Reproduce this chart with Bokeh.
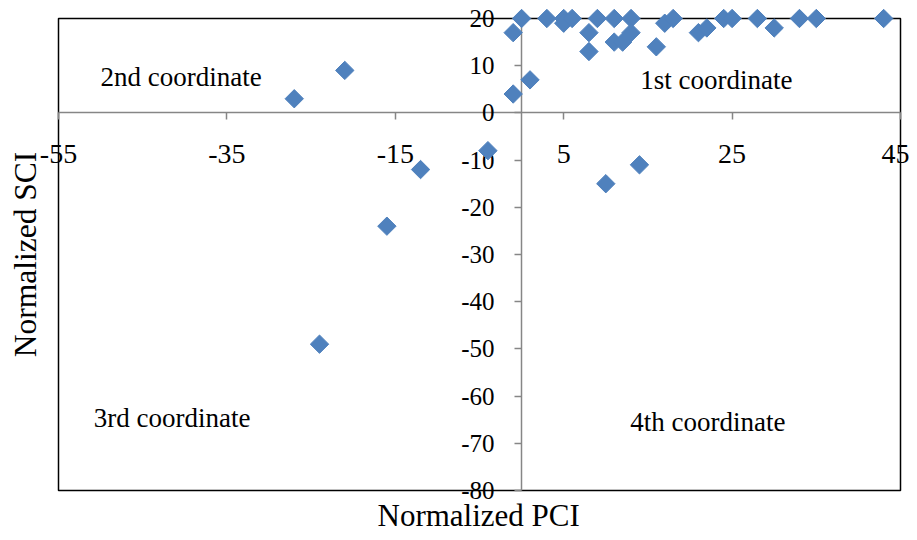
import numpy as np
from bokeh.plotting import figure
from bokeh.models import LinearAxis, FixedTicker, Range1d, Label, ColumnDataSource
from bokeh.embed import file_html
from bokeh.resources import INLINE

# ---- data ----
pci = [-27, -21, -12, -16, -24, -4, -1, 0, -1, 1, 3, 5, 5, 6, 8, 8, 9, 11, 11,
       12, 13, 13, 10, 14, 16, 17, 18, 21, 22, 24, 25, 28, 30, 33, 35, 43]
sci = [3, 9, -12, -24, -49, -8, 17, 20, 4, 7, 20, 20, 19, 20, 17, 13, 20, 20, 15,
       15, 20, 17, -15, -11, 14, 19, 20, 17, 18, 20, 20, 20, 18, 20, 20, 20]
x_ticks = [-55, -35, -15, 5, 25, 45]
y_ticks = [-80, -70, -60, -50, -40, -30, -20, -10, 0, 10, 20]
quadrant_labels = ["1st coordinate", "2nd coordinate", "3rd coordinate", "4th coordinate"]
x_title = "Normalized PCI"
y_title = "Normalized SCI"

FONT = "Liberation Serif"
AXIS_GRAY = "#868686"
BLUE = "#4F81BD"

# ---- layout (pixels) ----
W, H = 909, 532
BOX_L, BOX_R, BOX_T, BOX_B = 58, 900, 18, 490
xmin, xmax = x_ticks[0], x_ticks[-1]
ymin, ymax = y_ticks[0], y_ticks[-1]
xs = (BOX_R - BOX_L) / (xmax - xmin)
ys = (BOX_B - BOX_T) / (ymax - ymin)
x_range = Range1d(xmin - BOX_L / xs, xmax + (W - BOX_R) / xs)
y_range = Range1d(ymin - (H - BOX_B) / ys, ymax + BOX_T / ys)

p = figure(width=W, height=H, x_range=x_range, y_range=y_range,
           x_axis_location=None, y_axis_location=None,
           toolbar_location=None, output_backend="svg",
           min_border_left=0, min_border_right=0,
           min_border_top=0, min_border_bottom=0)
p.outline_line_color = None
p.background_fill_color = "white"
p.border_fill_color = "white"
p.grid.grid_line_color = None


def style_axis(ax, standoff, size, ticks):
    ax.axis_line_color = AXIS_GRAY
    ax.axis_line_width = 1.5
    ax.major_tick_line_color = AXIS_GRAY
    ax.major_tick_line_width = 1.5
    ax.major_tick_out = 7
    ax.major_tick_in = 0
    ax.minor_tick_line_color = None
    ax.major_label_text_font = FONT
    ax.major_label_text_font_size = size
    ax.major_label_text_color = "black"
    ax.major_label_standoff = standoff
    ax.major_label_overrides = {t: str(t) for t in ticks}


xaxis = LinearAxis(fixed_location=0, ticker=FixedTicker(ticks=x_ticks),
                   bounds=(xmin, xmax))
style_axis(xaxis, 25, "28px", x_ticks)
p.add_layout(xaxis, "below")

yaxis = LinearAxis(fixed_location=0, ticker=FixedTicker(ticks=y_ticks),
                   bounds=(ymin, ymax))
style_axis(yaxis, 20, "25px", y_ticks)
p.add_layout(yaxis, "left")

# plot-area border
p.quad(left=[xmin], right=[xmax], bottom=[ymin], top=[ymax],
       fill_color=None, line_color="black", line_width=1.5)

src = ColumnDataSource(dict(x=pci, y=sci))
p.scatter("x", "y", source=src, marker="square", angle=np.pi / 4, size=13,
          fill_color=BLUE, line_color=BLUE, level="overlay")

# quadrant labels
q_pos = [(14.1, 7.0), (-50.0, 7.7), (-50.8, -64.7), (12.9, -65.4)]
for txt, (qx, qy) in zip(quadrant_labels, q_pos):
    p.add_layout(Label(x=qx, y=qy, text=txt, text_font=FONT,
                       text_font_size="27px", text_color="black",
                       text_align="left", text_baseline="alphabetic"))

# axis titles
p.add_layout(Label(x=-5.1, y=-85.3, text=x_title, text_font=FONT,
                   text_font_size="31px", text_color="black",
                   text_align="center", text_baseline="alphabetic"))
p.add_layout(Label(x=-58.9, y=-30, text=y_title, text_font=FONT,
                   text_font_size="31.5px", text_color="black", angle=np.pi / 2,
                   text_align="center", text_baseline="middle"))

open("out.html", "w").write(file_html(p, INLINE))
